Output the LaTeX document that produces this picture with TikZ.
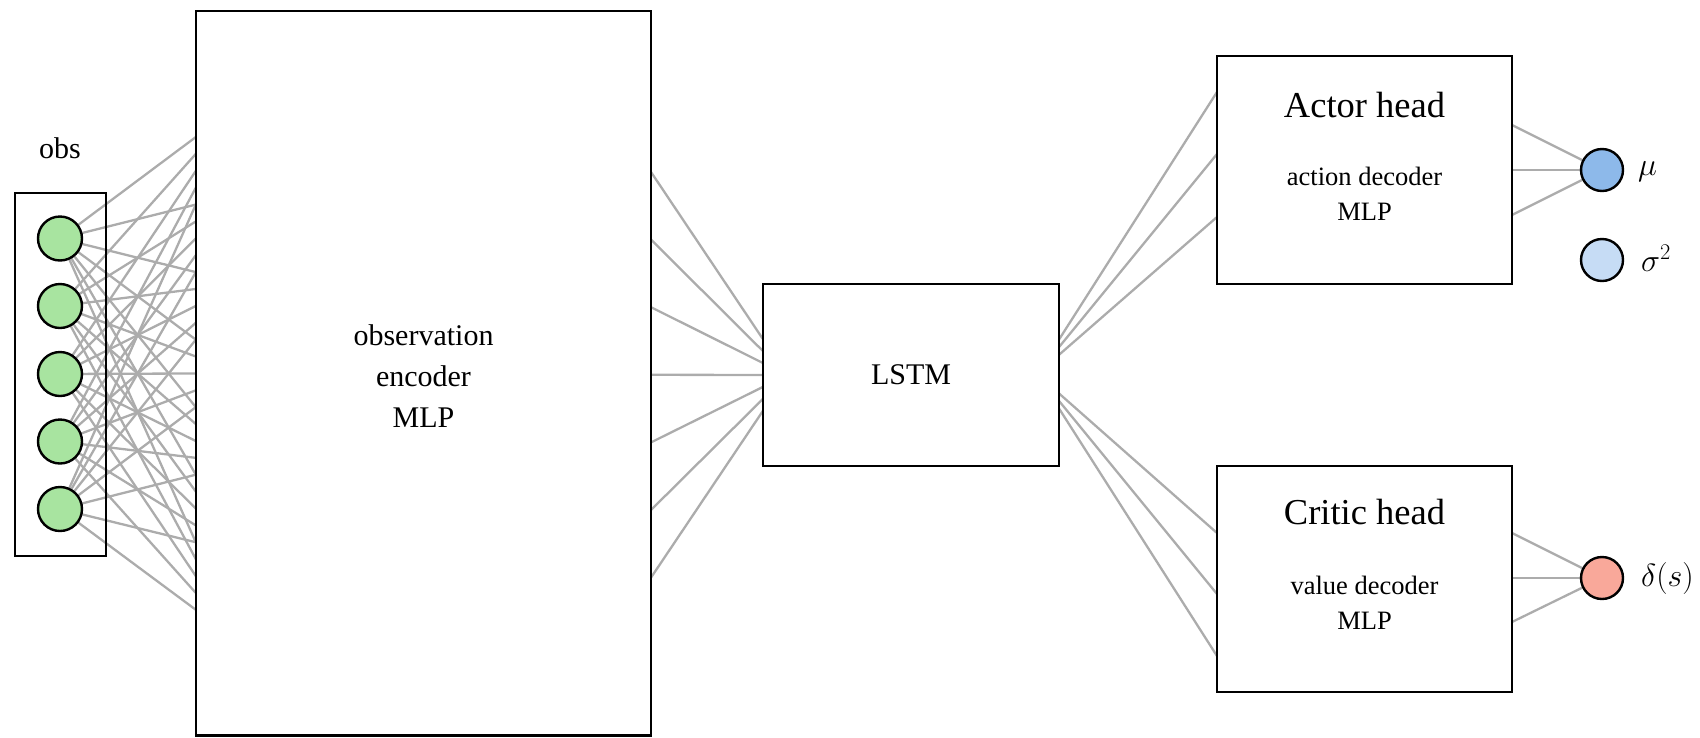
\RequirePackage{fix-cm}
\documentclass[tikz,border=0pt]{standalone}
\usepackage{fontspec}
\setmainfont{Liberation Serif}
\usetikzlibrary{backgrounds}
\definecolor{edgegray}{RGB}{172,172,172}
\definecolor{obsgreen}{RGB}{168,228,160}
\definecolor{mublue}{RGB}{141,185,234}
\definecolor{sigblue}{RGB}{198,220,245}
\definecolor{valred}{RGB}{249,168,154}
\tikzset{
  box/.style={draw=black, line width=2.8pt, fill=white, rectangle, inner sep=0pt},
  neuron/.style={circle, draw=black, line width=2.4pt, inner sep=0pt, minimum size=44pt},
  conn/.style={draw=edgegray, line width=2.3pt},
  bigtxt/.style={font=\fontsize{30}{41}\selectfont, align=center},
  headtxt/.style={font=\fontsize{36.5}{40}\selectfont},
  subtxt/.style={font=\fontsize{26.5}{35}\selectfont, align=center},
  mathlbl/.style={font=\fontsize{32}{38}\selectfont, anchor=west, inner sep=0pt},
}
\begin{document}
\begin{tikzpicture}[x=1pt,y=-1pt]
\useasboundingbox (0,0) rectangle (1700,737);
% observation input
\node[box, fill=none, minimum width=91pt, minimum height=363pt] (obsbox) at (60.5,374.5) {};
\node[bigtxt] (obslbl) at (60,148) {obs};
\foreach \i/\y in {1/238.5,2/306,3/374,4/441.5,5/509}
  \node[neuron, fill=obsgreen] (in\i) at (60,\y) {};
% encoder
\node[box, minimum width=455pt, minimum height=724.5pt] (enc) at (423.5,373.25) {};
\node[bigtxt] (enctxt) at (423.5,376) {observation\\encoder\\MLP};
\foreach \j in {0,...,6}
  \coordinate (h\j) at (241,{103.3+90*\j});
\foreach \k in {0,...,6}
  \coordinate (e\k) at (651,{172+67.6*\k});
% LSTM
\node[box, minimum width=296pt, minimum height=182pt, font=\fontsize{30}{34}\selectfont] (lstm) at (911,375) {LSTM};
\coordinate (lstmin) at (787,375);
\coordinate (lstmout) at (1037,374);
% actor head
\node[box, minimum width=295pt, minimum height=228pt] (actor) at (1364.5,170) {};
\node[headtxt] (actortitle) at (1364.5,105) {Actor head};
\node[subtxt] (actorsub) at (1364.5,194) {action decoder\\MLP};
% critic head
\node[box, minimum width=295pt, minimum height=226pt] (critic) at (1364.5,579) {};
\node[headtxt] (critictitle) at (1364.5,512) {Critic head};
\node[subtxt] (criticsub) at (1364.5,602.5) {value decoder\\MLP};
\foreach \k/\y in {1/92,2/154,3/217} \coordinate (aL\k) at (1217,\y);
\foreach \k/\y in {1/533,2/594,3/656} \coordinate (cL\k) at (1217,\y);
\foreach \k/\y in {1/125,2/170,3/215} \coordinate (aR\k) at (1512,\y);
\foreach \k/\y in {1/533,2/578,3/622} \coordinate (cR\k) at (1512,\y);
% outputs
\node[neuron, minimum size=42pt, fill=mublue] (mu) at (1602,170) {};
\node[neuron, minimum size=42pt, fill=sigblue] (sigma) at (1602,260) {};
\node[neuron, minimum size=42pt, fill=valred] (delta) at (1602,578) {};
\node[mathlbl] (mulbl) at (1638,172) {$\mu$};
\node[mathlbl] (sigmalbl) at (1641,258) {$\sigma^2$};
\node[mathlbl] (deltalbl) at (1641,578) {$\delta(s)$};
% connectors
\begin{scope}[on background layer]
\foreach \i in {1,...,5}
  \foreach \j in {0,...,6}
    \draw[conn] (in\i.center) -- (h\j);
\foreach \k in {0,...,6}
  \draw[conn] (e\k) -- (lstmin);
\foreach \k in {1,2,3} {
  \draw[conn] (lstmout) -- (aL\k);
  \draw[conn] (lstmout) -- (cL\k);
  \draw[conn] (aR\k) -- (mu.center);
  \draw[conn] (cR\k) -- (delta.center);
}
\end{scope}
\end{tikzpicture}
\end{document}
